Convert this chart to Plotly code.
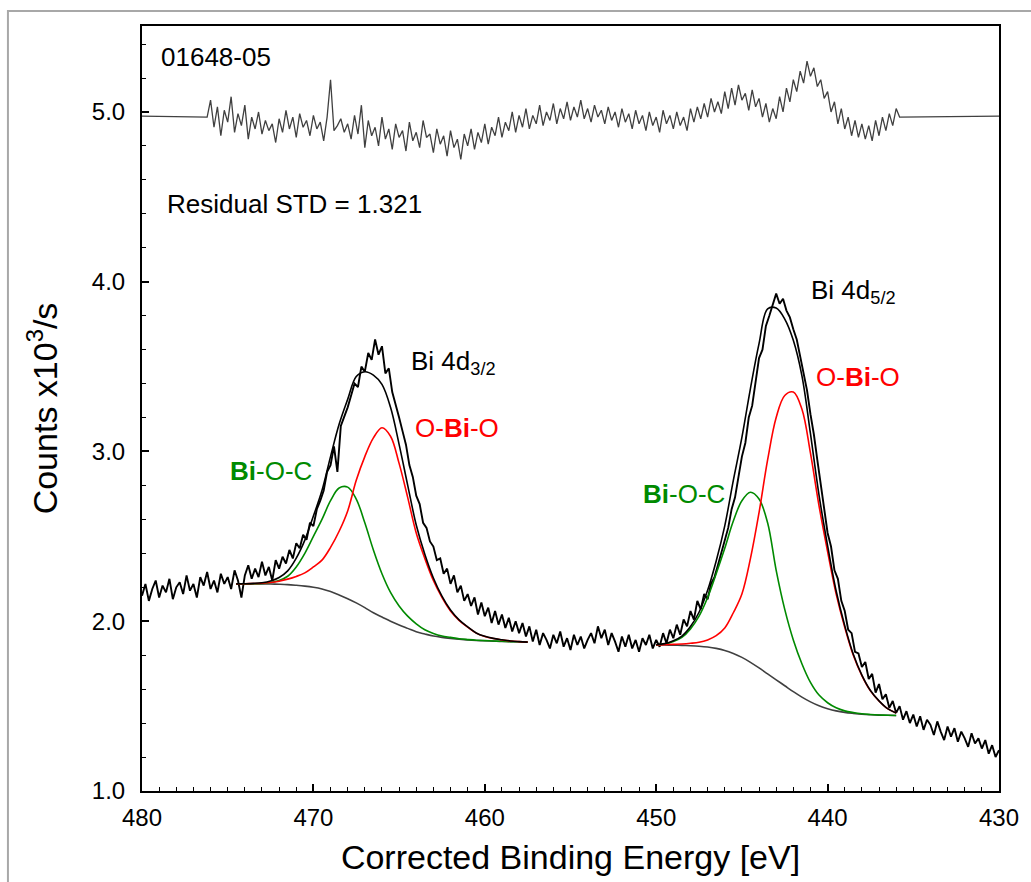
import numpy as np
import plotly.graph_objects as go

# ---------------- data ----------------
# measured spectrum, 480.0 -> 430.0 eV, 0.2 eV step (counts x10^3/s)
counts = [
    2.15, 2.22, 2.12, 2.19, 2.24, 2.14, 2.21, 2.17, 2.25, 2.13,
    2.20, 2.23, 2.16, 2.27, 2.18, 2.22, 2.14, 2.26, 2.21, 2.29,
    2.19, 2.24, 2.17, 2.28, 2.22, 2.26, 2.19, 2.30, 2.24, 2.14,
    2.27, 2.33, 2.25, 2.31, 2.26, 2.35, 2.27, 2.32, 2.24, 2.36,
    2.31, 2.38, 2.34, 2.42, 2.37, 2.46, 2.43, 2.51, 2.48, 2.58,
    2.56, 2.66, 2.71, 2.77, 2.88, 2.92, 3.03, 2.88, 3.15, 3.20,
    3.26, 3.33, 3.40, 3.38, 3.50, 3.47, 3.58, 3.54, 3.66, 3.57,
    3.62, 3.46, 3.49, 3.35, 3.28, 3.20, 3.12, 3.04, 2.92, 2.85,
    2.74, 2.69, 2.58, 2.55, 2.47, 2.44, 2.36, 2.37, 2.28, 2.31,
    2.22, 2.27, 2.17, 2.21, 2.12, 2.16, 2.09, 2.14, 2.04, 2.11,
    2.03, 2.08, 1.99, 2.06, 1.98, 2.04, 1.96, 2.02, 1.94, 2.00,
    1.93, 1.99, 1.91, 1.97, 1.88, 1.95, 1.86, 1.93, 1.89, 1.84,
    1.92, 1.87, 1.94, 1.85, 1.90, 1.83, 1.92, 1.86, 1.91, 1.84,
    1.89, 1.93, 1.87, 1.97, 1.90, 1.95, 1.86, 1.93, 1.88, 1.82,
    1.91, 1.85, 1.92, 1.84, 1.89, 1.82, 1.90, 1.86, 1.92, 1.84,
    1.89, 1.85, 1.93, 1.87, 1.95, 1.90, 1.98, 1.92, 2.01, 1.97,
    2.06, 2.01, 2.12, 2.07, 2.16, 2.13, 2.22, 2.26, 2.33, 2.40,
    2.48, 2.55, 2.66, 2.73, 2.85, 2.97, 3.05, 3.20, 3.27, 3.42,
    3.55, 3.60, 3.74, 3.80, 3.86, 3.93, 3.87, 3.90, 3.83, 3.79,
    3.72, 3.66, 3.56, 3.46, 3.36, 3.22, 3.10, 2.95, 2.80, 2.68,
    2.52, 2.44, 2.30, 2.25, 2.12, 2.06, 1.95, 1.93, 1.82, 1.81,
    1.73, 1.76, 1.66, 1.69, 1.58, 1.63, 1.54, 1.57, 1.49, 1.53,
    1.46, 1.50, 1.42, 1.47, 1.40, 1.45, 1.38, 1.44, 1.36, 1.42,
    1.39, 1.33, 1.41, 1.35, 1.30, 1.38, 1.32, 1.37, 1.29, 1.35,
    1.31, 1.26, 1.34, 1.28, 1.31, 1.25, 1.30, 1.22, 1.27, 1.20,
    1.24,
]

# residual (offset for display), 476.2 -> 435.8 eV, 0.2 eV step
residual = [
    4.97, 5.07, 4.91, 5.03, 4.86, 5.01, 4.94, 5.09, 4.88, 4.99,
    4.92, 5.04, 4.84, 4.97, 4.90, 5.00, 4.87, 4.95, 4.89, 4.93,
    4.82, 4.96, 4.88, 5.01, 4.90, 4.97, 4.85, 4.99, 4.91, 4.95,
    4.86, 4.98, 4.90, 4.94, 4.83, 4.97, 5.19, 4.89, 4.92, 4.96,
    4.88, 4.93, 4.84, 4.98, 4.87, 5.04, 4.79, 4.95, 4.86, 4.91,
    4.80, 4.97, 4.84, 4.90, 4.78, 4.93, 4.85, 4.89, 4.77, 4.94,
    4.83, 4.88, 4.79, 4.95, 4.85, 4.87, 4.76, 4.90, 4.81, 4.86,
    4.74, 4.89, 4.79, 4.84, 4.72, 4.87, 4.80, 4.90, 4.78, 4.88,
    4.82, 4.93, 4.81, 4.91, 4.86, 4.97, 4.85, 4.94, 4.89, 5.00,
    4.88, 4.98, 4.91, 5.02, 4.90, 4.98, 4.93, 5.04, 4.92, 5.00,
    4.95, 5.05, 4.93, 5.02, 4.96, 5.06, 4.95, 5.03, 4.97, 5.07,
    4.96, 5.02, 4.94, 5.04, 4.97, 5.01, 4.93, 5.03, 4.95, 5.00,
    4.91, 5.02, 4.94, 4.99, 4.90, 5.01, 4.93, 4.98, 4.89, 5.00,
    4.92, 4.97, 4.88, 5.01, 4.93, 4.98, 4.90, 5.00, 4.92, 4.97,
    4.89, 5.02, 4.94, 5.03, 4.96, 5.05, 4.97, 5.08, 5.00, 5.06,
    4.99, 5.12, 5.02, 5.14, 5.04, 5.16, 5.07, 5.11, 5.01, 5.13,
    5.03, 5.08, 4.97, 5.05, 4.94, 5.02, 4.96, 5.09, 5.00, 5.14,
    5.06, 5.19, 5.12, 5.24, 5.17, 5.30, 5.21, 5.26, 5.15, 5.19,
    5.08, 5.12, 5.00, 5.06, 4.93, 5.02, 4.90, 4.97, 4.86, 4.95,
    4.85, 4.93, 4.84, 4.92, 4.83, 4.95, 4.86, 4.97, 4.89, 4.99,
    4.92, 5.02, 4.97,
]
residual_zero = 4.976

# Bi 4d3/2 fit region, 474.5 -> 457.5 eV, 0.5 eV step
fit1_baseline = [
    2.220, 2.220, 2.220, 2.220, 2.219, 2.218, 2.216, 2.212, 2.207, 2.200,
    2.190, 2.175, 2.155, 2.133, 2.108, 2.080, 2.050, 2.025, 2.000, 1.978,
    1.958, 1.938, 1.925, 1.913, 1.905, 1.899, 1.894, 1.890, 1.887, 1.885,
    1.883, 1.881, 1.880, 1.879, 1.878,
]
fit1_bioc = [
    2.220, 2.220, 2.221, 2.223, 2.228, 2.240, 2.265, 2.320, 2.400, 2.500,
    2.600, 2.710, 2.785, 2.790, 2.720, 2.580, 2.420, 2.280, 2.170, 2.090,
    2.030, 1.985, 1.950, 1.928, 1.913, 1.905, 1.897, 1.892, 1.888, 1.886,
    1.884, 1.882, 1.880, 1.879, 1.878,
]
fit1_obio = [
    2.220, 2.221, 2.222, 2.224, 2.228, 2.236, 2.248, 2.264, 2.285, 2.320,
    2.360, 2.435, 2.530, 2.650, 2.830, 2.970, 3.080, 3.140, 3.090, 2.930,
    2.730, 2.520, 2.370, 2.240, 2.140, 2.060, 2.005, 1.965, 1.930, 1.910,
    1.898, 1.890, 1.884, 1.880, 1.877,
]
fit1_envelope = [
    2.220, 2.221, 2.223, 2.227, 2.237, 2.258, 2.297, 2.372, 2.478, 2.620,
    2.770, 2.970, 3.160, 3.307, 3.442, 3.470, 3.450, 3.395, 3.260, 3.042,
    2.802, 2.567, 2.395, 2.255, 2.148, 2.066, 2.008, 1.967, 1.931, 1.911,
    1.899, 1.891, 1.884, 1.880, 1.877,
]

# Bi 4d5/2 fit region, 450.0 -> 436.0 eV, 0.5 eV step
fit2_baseline = [
    1.860, 1.860, 1.859, 1.858, 1.856, 1.853, 1.848, 1.840, 1.828, 1.810,
    1.787, 1.758, 1.725, 1.690, 1.655, 1.620, 1.585, 1.553, 1.525, 1.502,
    1.485, 1.472, 1.463, 1.457, 1.452, 1.449, 1.447, 1.446, 1.445,
]
fit2_bioc = [
    1.861, 1.866, 1.880, 1.905, 1.955, 2.030, 2.140, 2.280, 2.430, 2.590,
    2.710, 2.760, 2.720, 2.580, 2.300, 2.070, 1.890, 1.750, 1.640, 1.565,
    1.520, 1.490, 1.472, 1.462, 1.455, 1.451, 1.448, 1.446, 1.445,
]
fit2_obio = [
    1.861, 1.862, 1.864, 1.866, 1.870, 1.876, 1.890, 1.915, 1.960, 2.050,
    2.160, 2.370, 2.640, 2.950, 3.200, 3.330, 3.350, 3.250, 2.990, 2.680,
    2.410, 2.160, 1.965, 1.800, 1.680, 1.590, 1.530, 1.485, 1.460,
]
fit2_envelope = [
    1.862, 1.868, 1.885, 1.913, 1.969, 2.053, 2.182, 2.355, 2.562, 2.830,
    3.083, 3.372, 3.635, 3.840, 3.845, 3.780, 3.655, 3.447, 3.105, 2.743,
    2.445, 2.178, 1.974, 1.805, 1.683, 1.592, 1.531, 1.485, 1.460,
]

# energy grids
energy = np.linspace(480.0, 430.0, len(counts))
resid_energy = np.linspace(476.2, 435.8, len(residual))
fit1_energy = np.linspace(474.5, 457.5, len(fit1_envelope))
fit2_energy = np.linspace(450.0, 436.0, len(fit2_envelope))

FONT = "Arial, Liberation Sans, sans-serif"
GREEN = "#008a00"
RED = "#ff0000"
GRAY = "#404040"

fig = go.Figure()

# residual with flat zero line outside the fitted range
fig.add_trace(go.Scatter(
    x=[480.0] + list(resid_energy) + [430.0],
    y=[residual_zero] + residual + [residual_zero],
    mode="lines", line=dict(color=GRAY, width=1.3)))

# measured data
fig.add_trace(go.Scatter(x=energy, y=counts, mode="lines",
                         line=dict(color="black", width=1.9)))

for ex, base, bioc, obio, env in [
    (fit1_energy, fit1_baseline, fit1_bioc, fit1_obio, fit1_envelope),
    (fit2_energy, fit2_baseline, fit2_bioc, fit2_obio, fit2_envelope),
]:
    fig.add_trace(go.Scatter(x=ex, y=base, mode="lines", line_shape="spline",
                             line=dict(color=GRAY, width=1.6)))
    fig.add_trace(go.Scatter(x=ex, y=bioc, mode="lines", line_shape="spline",
                             line=dict(color=GREEN, width=1.6)))
    fig.add_trace(go.Scatter(x=ex, y=obio, mode="lines", line_shape="spline",
                             line=dict(color=RED, width=1.6)))
    fig.add_trace(go.Scatter(x=ex, y=env, mode="lines", line_shape="spline",
                             line=dict(color="black", width=1.6)))

ann_font = dict(family=FONT, size=26, color="black")
annotations = [
    dict(x=479.02, y=5.324, text="01648-05", font=ann_font),
    dict(x=478.67, y=4.46, text="Residual STD = 1.321", font=ann_font),
    dict(x=464.43, y=3.525, text="Bi 4d<sub>3/2</sub>", font=ann_font),
    dict(x=464.18, y=3.138, text="O-<b>Bi</b>-O", font=dict(family=FONT, size=26, color=RED)),
    dict(x=475.0, y=2.887, text="<b>Bi</b>-O-C", font=dict(family=FONT, size=26, color=GREEN)),
    dict(x=441.11, y=3.945, text="Bi 4d<sub>5/2</sub>", font=ann_font),
    dict(x=440.82, y=3.438, text="O-<b>Bi</b>-O", font=dict(family=FONT, size=26, color=RED)),
    dict(x=450.86, y=2.750, text="<b>Bi</b>-O-C", font=dict(family=FONT, size=26, color=GREEN)),
]
for a in annotations:
    a.update(xref="x", yref="y", showarrow=False, xanchor="left", yanchor="middle")

fig.update_layout(
    width=1031, height=882,
    margin=dict(l=142, r=26, t=26, b=89),
    paper_bgcolor="white", plot_bgcolor="white",
    showlegend=False,
    font=dict(family=FONT, color="black"),
    annotations=annotations,
    shapes=[dict(type="rect", xref="paper", yref="paper",
                 x0=(7 - 142) / 863, x1=1.2, y0=-0.3, y1=(793 - 11) / 767,
                 line=dict(color="#a8a8a8", width=2), layer="below")],
)

fig.update_xaxes(
    range=[480, 430], tick0=430, dtick=10,
    ticks="inside", ticklen=7, tickwidth=1.5, tickcolor="black",
    minor=dict(ticks="inside", dtick=1, ticklen=4, tickwidth=1.2, tickcolor="black"),
    showline=True, linewidth=2, linecolor="black", mirror=True,
    showgrid=False, zeroline=False,
    tickfont=dict(family=FONT, size=24, color="black"),
    ticklabelstandoff=4,
    title=dict(text="Corrected Binding Energy [eV]",
               font=dict(family=FONT, size=34, color="black"), standoff=15),
)
fig.update_yaxes(
    range=[1.0, 1.0 + 767 / 170.2], tick0=1.0, dtick=1.0, tickformat=".1f",
    ticks="inside", ticklen=7, tickwidth=1.5, tickcolor="black",
    minor=dict(ticks="inside", dtick=0.2, ticklen=4, tickwidth=1.2, tickcolor="black"),
    showline=True, linewidth=2, linecolor="black", mirror=True,
    showgrid=False, zeroline=False,
    tickfont=dict(family=FONT, size=24, color="black"),
    ticklabelstandoff=10,
    title=dict(text="Counts x10<sup>3</sup>/s",
               font=dict(family=FONT, size=34, color="black"), standoff=24),
)

fig.write_html("out.html")
